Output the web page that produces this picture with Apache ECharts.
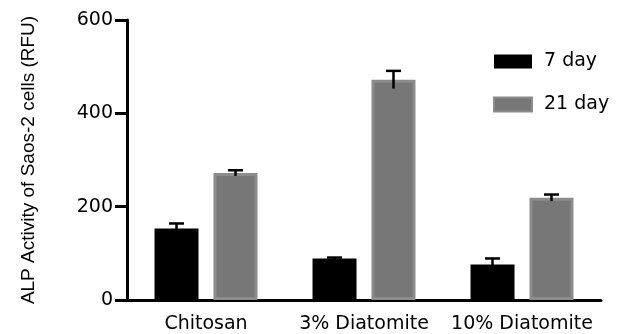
<!DOCTYPE html>
<html><head><meta charset="utf-8">
<script src="https://cdn.jsdelivr.net/npm/echarts@6/dist/echarts.min.js"></script>
<style>html,body{margin:0;padding:0;background:#fff}#c{width:624px;height:334px}</style>
</head><body><div id="c"></div>
<script>
var categories = ['Chitosan', '3% Diatomite', '10% Diatomite'];
var day7 = [153, 89, 76];
var day7Err = [11, 2, 13];
var day21 = [272, 472, 219];
var day21Err = [6, 19, 7];
var yTicks = [0, 200, 400, 600];

var chart = echarts.init(document.getElementById('c'));
var OFF = 29.5;
function errSeries(vals, errs, dx) {
  return {
    type: 'custom', z: 5, silent: true,
    data: vals.map(function (v, i) { return [i, v, errs[i]]; }),
    renderItem: function (params, api) {
      var i = api.value(0), v = api.value(1), e = api.value(2);
      var top = api.coord([i, v + e]);
      var bot = api.coord([i, v - e]);
      var x = top[0] + dx, hw = 7.5;
      return { type: 'group', children: [
        { type: 'line', shape: { x1: x, y1: top[1], x2: x, y2: bot[1] }, style: { stroke: '#000', lineWidth: 2.5 } },
        { type: 'line', shape: { x1: x - hw, y1: top[1], x2: x + hw, y2: top[1] }, style: { stroke: '#000', lineWidth: 2.5 } }
      ]};
    }
  };
}
chart.setOption({
  animation: false,
  grid: { left: 127, right: 23, top: 20, bottom: 33 },
  legend: {
    orient: 'vertical', left: 488, top: 47, itemWidth: 38, itemHeight: 14, itemGap: 24,
    icon: 'rect',
    textStyle: { fontFamily: 'DejaVu Sans', fontSize: 19, color: '#000', padding: [0, 0, 0, 7] },
    data: ['7 day', '21 day']
  },
  xAxis: {
    type: 'category', data: categories,
    axisLine: { lineStyle: { color: '#000', width: 3 } },
    axisTick: { alignWithLabel: true, length: 10, lineStyle: { color: '#000', width: 3 } },
    axisLabel: { color: '#000', fontFamily: 'DejaVu Sans', fontSize: 19, margin: 15, interval: 0 }
  },
  yAxis: {
    type: 'value', min: 0, max: 600, interval: 200,
    name: 'ALP Activity of Saos-2 cells (RFU)', nameLocation: 'middle', nameGap: 89,
    nameTextStyle: { fontFamily: 'Liberation Sans', fontSize: 19, color: '#000' },
    axisLine: { show: true, lineStyle: { color: '#000', width: 3 } },
    axisTick: { show: true, length: 12, lineStyle: { color: '#000', width: 3 } },
    splitLine: { show: false },
    axisLabel: { color: '#000', fontFamily: 'DejaVu Sans', fontSize: 19, margin: 14,
      formatter: function (v) { return yTicks.indexOf(v) >= 0 ? String(v) : ''; } }
  },
  series: [
    { name: '7 day', type: 'bar', data: day7, barWidth: 44, barGap: '34%',
      itemStyle: { color: '#000' } },
    { name: '21 day', type: 'bar', data: day21, barWidth: 44,
      itemStyle: { color: '#777777', borderColor: '#8c8c8c', borderWidth: 3 } },
    errSeries(day7, day7Err, -OFF),
    errSeries(day21, day21Err, OFF)
  ]
});
</script></body></html>
